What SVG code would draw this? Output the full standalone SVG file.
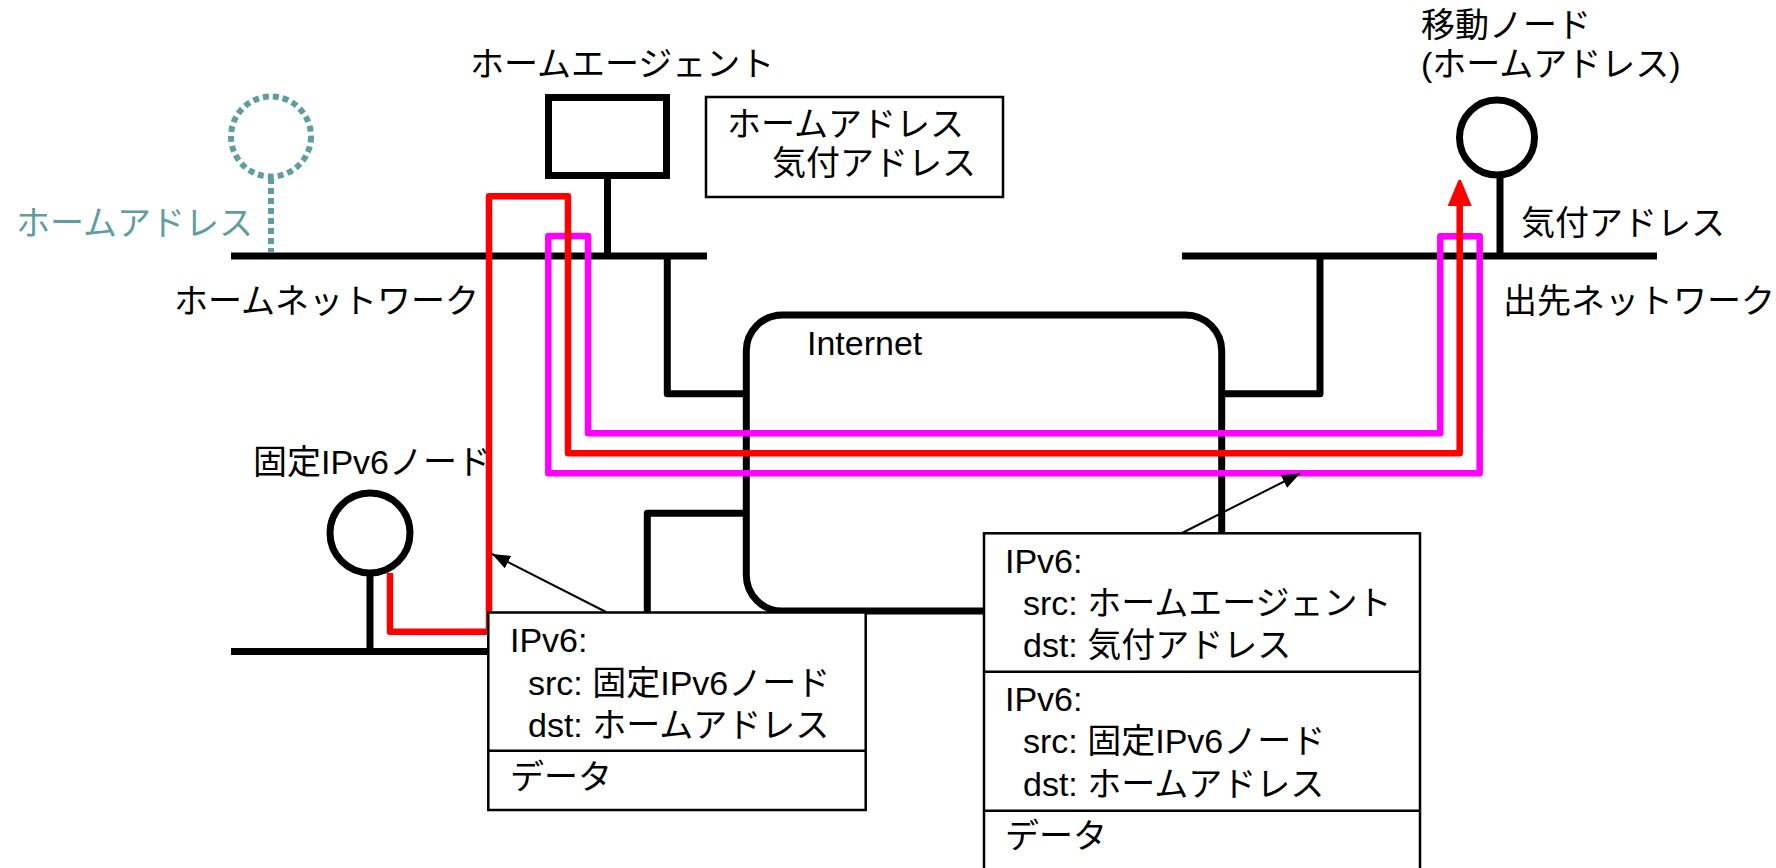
<svg xmlns="http://www.w3.org/2000/svg" width="1776" height="868" viewBox="0 0 1776 868">
<defs>
<style>
text{font-family:"Liberation Sans","Noto Sans CJK JP",sans-serif;font-size:34px;fill:#000}
.teal{fill:#5F9EA0}
.net{stroke:#000;stroke-width:7;fill:none;stroke-linejoin:round}
.node{stroke:#000;stroke-width:7;fill:#fff}
.box{stroke:#000;stroke-width:2.5;fill:#fff}
.dot{stroke:#5F9EA0;stroke-width:6;fill:none;stroke-dasharray:6 4}
.red{stroke:#FF0000;stroke-width:6.5;fill:none;stroke-linejoin:round}
.mag{stroke:#FF00FF;stroke-width:6.5;fill:none;stroke-linejoin:round}
.ptr{stroke:#000;stroke-width:2;fill:none;marker-end:url(#ah)}
</style>
<marker id="ah" markerUnits="userSpaceOnUse" markerWidth="20" markerHeight="14" refX="18" refY="7" orient="auto">
<path d="M0,0 L18,7 L0,14 z" fill="#000"/>
</marker>
<marker id="rah" markerUnits="userSpaceOnUse" markerWidth="26" markerHeight="30" refX="0" refY="12" orient="auto">
<path d="M0,0 L29,12 L0,24 z" fill="#FF0000"/>
</marker>
</defs>
<rect width="1776" height="868" fill="#fff"/>

<g id="connectors">
<line class="net" x1="231" y1="256" x2="707" y2="256"/>
<line class="net" x1="1182" y1="256" x2="1657" y2="256"/>
<line class="net" x1="231" y1="651.5" x2="647.3" y2="651.5"/>
<polyline class="net" points="667.3,256 667.3,393.7 746.3,393.7"/>
<polyline class="net" points="1320,256 1320,393.7 1221.7,393.7"/>
<polyline class="net" points="746.3,513.3 647.3,513.3 647.3,651.5"/>
<line class="net" x1="1100" y1="611" x2="984" y2="611"/>
<line class="net" x1="607.5" y1="176" x2="607.5" y2="256"/>
<line class="net" x1="1500" y1="175" x2="1500" y2="256"/>
<line class="net" x1="370" y1="573" x2="370" y2="651.5"/>
<line class="dot" x1="271" y1="178" x2="271" y2="252"/>
</g>

<g id="internet">
<rect class="net" x="746.3" y="315" width="475.4" height="296" rx="36" ry="36" fill="#fff"/>
<text x="807" y="355">Internet</text>
</g>

<g id="home-network-label"><text x="174" y="313">ホームネットワーク</text></g>
<g id="foreign-network-label"><text x="1503" y="313">出先ネットワーク</text></g>

<g id="home-address-ghost">
<circle class="dot" cx="271" cy="136.5" r="40"/>
<text class="teal" x="16" y="235">ホームアドレス</text>
</g>

<g id="home-agent">
<rect class="node" x="548.5" y="97.5" width="118" height="78"/>
<text x="470" y="76">ホームエージェント</text>
</g>

<g id="legend">
<rect class="box" x="706" y="97" width="297" height="100"/>
<text x="727" y="136">ホームアドレス</text>
<text x="772" y="175">気付アドレス</text>
</g>

<g id="mobile-node">
<circle class="node" cx="1497" cy="137.5" r="37.5"/>
<text x="1421" y="37">移動ノード</text>
<text x="1421" y="76">(ホームアドレス)</text>
<text x="1521" y="235">気付アドレス</text>
</g>

<g id="fixed-node">
<circle class="node" cx="370" cy="533" r="40"/>
<text x="253" y="474">固定IPv6ノード</text>
</g>

<g id="paths">
<polygon class="mag" points="548.3,236 588,236 588,433.3 1440.3,433.3 1440.3,236.3 1479.7,236.3 1479.7,473.3 548.3,473.3"/>
<polyline class="red" points="390,573 390,631.7 489,631.7 489,196.3 568,196.3 568,453.3 1459.7,453.3 1459.7,206" marker-end="url(#rah)"/>
</g>

<g id="packet-1">
<rect class="box" x="488.3" y="612.5" width="377.4" height="197.5"/>
<line class="box" x1="488.3" y1="750.7" x2="865.7" y2="750.7"/>
<text x="510" y="651.5">IPv6:</text>
<text x="528" y="695">src: 固定IPv6ノード</text>
<text x="528" y="736.7">dst: ホームアドレス</text>
<text x="510" y="789">データ</text>
</g>

<g id="packet-2">
<rect class="box" x="984" y="533.3" width="436" height="360"/>
<line class="box" x1="984" y1="671.7" x2="1420" y2="671.7"/>
<line class="box" x1="984" y1="810.7" x2="1420" y2="810.7"/>
<text x="1005" y="572.7">IPv6:</text>
<text x="1023" y="615">src: ホームエージェント</text>
<text x="1023" y="656.7">dst: 気付アドレス</text>
<text x="1005" y="710.7">IPv6:</text>
<text x="1023" y="753.3">src: 固定IPv6ノード</text>
<text x="1023" y="796">dst: ホームアドレス</text>
<text x="1005" y="848">データ</text>
</g>

<g id="pointers">
<line class="ptr" x1="606" y1="612" x2="492" y2="554"/>
<line class="ptr" x1="1182" y1="533" x2="1300" y2="473.5"/>
</g>
</svg>
